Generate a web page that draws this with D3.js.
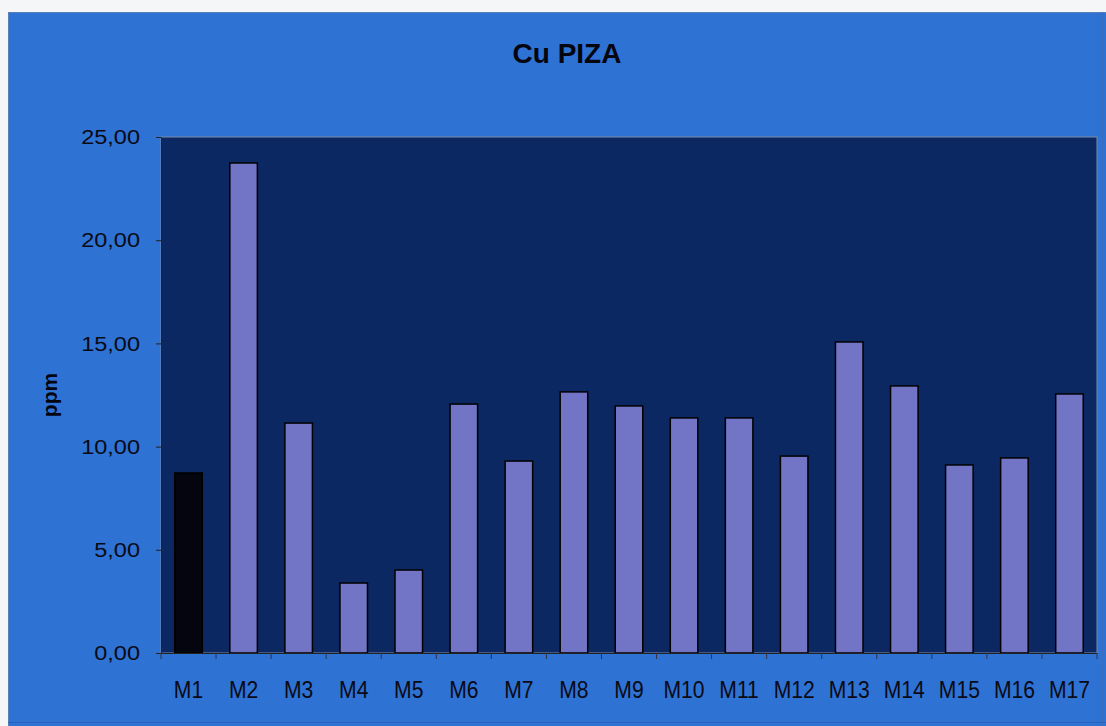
<!DOCTYPE html>
<html><head><meta charset="utf-8">
<script src="https://cdn.jsdelivr.net/npm/d3@7"></script>
<style>html,body{margin:0;padding:0;background:#f4f6f8;}svg{display:block;}</style>
</head><body>
<svg id="c" width="1106" height="726"></svg>
<script>
const categories = ["M1","M2","M3","M4","M5","M6","M7","M8","M9","M10","M11","M12","M13","M14","M15","M16","M17"];
const values = [8.72,23.74,11.14,3.39,4.02,12.06,9.30,12.65,11.97,11.39,11.39,9.54,15.07,12.94,9.11,9.45,12.55];
const yTicks = [0,5,10,15,20,25];
const title = "Cu PIZA";
const yLabel = "ppm";

const svg = d3.select("#c");
const W = 1106, H = 726;
const m = {left:161, top:137, right:1097, bottom:653};
const FONT = "Liberation Sans, Arial, sans-serif";

// chart background
svg.append("rect").attr("x",8).attr("y",12).attr("width",W-8).attr("height",H-12)
  .attr("fill","#2e72d4");
svg.append("line").attr("x1",8).attr("x2",W).attr("y1",12.5).attr("y2",12.5).attr("stroke","#5a7fb8").attr("stroke-width",1);
svg.append("line").attr("x1",8.5).attr("x2",8.5).attr("y1",12).attr("y2",H).attr("stroke","#5a7fb8").attr("stroke-width",1);
svg.append("line").attr("x1",1102.5).attr("x2",1102.5).attr("y1",12).attr("y2",H).attr("stroke","#3a6cc0").attr("stroke-width",1);
svg.append("line").attr("x1",8).attr("x2",W).attr("y1",722.5).attr("y2",722.5).attr("stroke","#2a60b8").attr("stroke-width",1);

const x = d3.scaleBand().domain(categories).range([m.left,m.right]).paddingInner(0.5).paddingOuter(0.25);
const y = d3.scaleLinear().domain([0,25]).range([m.bottom,m.top]);

// plot area
svg.append("rect").attr("x",m.left).attr("y",m.top).attr("width",m.right-m.left).attr("height",m.bottom-m.top)
  .attr("fill","#0b2862").attr("stroke","#7a8aa8").attr("stroke-width",1);

// bars
svg.append("g").selectAll("rect").data(values).join("rect")
  .attr("x",(d,i)=>x(categories[i]))
  .attr("y",d=>y(d))
  .attr("width",x.bandwidth())
  .attr("height",d=>y(0)-y(d))
  .attr("fill",(d,i)=>i===0?"#050510":"#7275c6")
  .attr("stroke","#000")
  .attr("stroke-width",1.5);

// y axis
const fmt = d=>d3.format(".2f")(d).replace(".",",");
const ya = svg.append("g").attr("transform",`translate(${m.left},0)`)
  .call(d3.axisLeft(y).tickValues(yTicks).tickFormat(fmt).tickSize(5).tickPadding(0));
ya.select(".domain").attr("stroke","#222");
ya.selectAll(".tick line").attr("stroke","#222");
ya.selectAll("text").attr("font-family",FONT).attr("font-size",21).attr("fill","#0a0a14")
  .attr("x",0).attr("transform","translate(-21,0) scale(1.12,1)");

// x axis with ticks between categories
const xa = svg.append("g").attr("transform",`translate(0,${m.bottom})`)
  .call(d3.axisBottom(x).tickSize(0).tickPadding(0));
xa.select(".domain").attr("stroke","#222");
xa.selectAll("text").attr("font-family",FONT).attr("font-size",24).attr("fill","#0a0a14")
  .attr("y",45).attr("dy",0).attr("transform","scale(0.88,1)");
const bounds = d3.range(categories.length+1).map(i=>m.left + i*(m.right-m.left)/categories.length);
svg.append("g").selectAll("line").data(bounds).join("line")
  .attr("x1",d=>d).attr("x2",d=>d).attr("y1",m.bottom).attr("y2",m.bottom+6)
  .attr("stroke","#334").attr("stroke-width",1);

// title
svg.append("text").attr("x",567).attr("y",63).attr("text-anchor","middle")
  .attr("font-family",FONT).attr("font-weight","bold").attr("font-size",28)
  .attr("fill","#050510").text(title);

// y label
svg.append("text").attr("transform","translate(57,395) rotate(-90)").attr("text-anchor","middle")
  .attr("font-family",FONT).attr("font-weight","bold").attr("font-size",21)
  .attr("fill","#050510").text(yLabel);
</script>
</body></html>
